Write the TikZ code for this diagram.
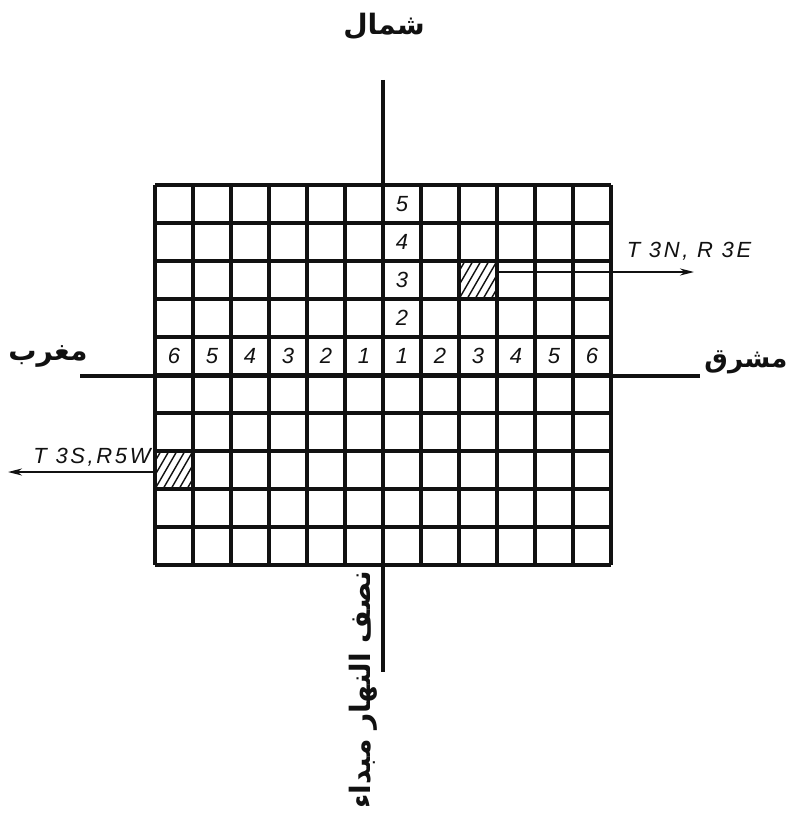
\documentclass[tikz,border=0pt]{standalone}
\usepackage{fontspec}
\setmainfont{Liberation Sans}
\newfontfamily\arabicfont[Script=Arabic]{DejaVu Sans}
\newfontfamily\tagfont[LetterSpace=12]{Liberation Sans}
\TeXXeTstate=1
\usepackage{xcolor}
\definecolor{colInk}{HTML}{111111}
\usepackage{tikz}
\usetikzlibrary{arrows.meta}

\tikzset{
  gridline/.style={colInk, line width=1.9pt},
  axisline/.style={colInk, line width=2pt},
  hatchline/.style={colInk, line width=0.8pt},
  pointer/.style={colInk, line width=1pt, -{Stealth[length=8pt,width=4pt]}},
  cellnum/.style={font=\itshape\fontsize{12.5}{12.5}\selectfont, text=colInk},
  tag/.style={font=\tagfont\itshape\fontsize{12.5}{12.5}\selectfont, text=colInk},
  arlabel/.style={font=\arabicfont\bfseries\fontsize{16}{16}\selectfont, text=colInk},
}

\begin{document}
\begin{tikzpicture}[x=0.02cm, y=-0.02cm]
        % Frame: 787 x 814 px, 1px -> 0.02cm
        \useasboundingbox (0,0) rectangle (787,814);
        % Grid: 12 columns x 10 rows, cell 38px
        \foreach \i in {0,...,12}
            \draw[gridline] ({155+38*\i},185) -- ({155+38*\i},565);
        \foreach \j in {0,...,10}
            \draw[gridline] (155,{185+38*\j}) -- (611,{185+38*\j});
        % Hatched sections
        \begin{scope}
            \clip (459,261) rectangle (497,299);
            \foreach \k in {0,...,7}
                \draw[hatchline] ({443+8*\k},299) -- ({465+8*\k},261);
        \end{scope}
        \begin{scope}
            \clip (155,451) rectangle (193,489);
            \foreach \k in {0,...,7}
                \draw[hatchline] ({139+8*\k},489) -- ({161+8*\k},451);
        \end{scope}
        % Axes
        \draw[axisline] (383,80) -- (383,672);
        \draw[axisline] (80,376) -- (700,376);
        % Range numbers
        \foreach \n in {1,...,6} {
            \node[cellnum] at ({383-38*\n+19},356) {\n};
            \node[cellnum] at ({383+38*\n-19},356) {\n};
        }
        % Tier numbers
        \foreach \n in {2,...,5}
            \node[cellnum] at (402,{375-38*\n+19}) {\n};
        % Locations
        \coordinate (ne-cell) at (497,272);
        \coordinate (ne-tip) at (694,272);
        \coordinate (sw-cell) at (155,472);
        \coordinate (sw-tip) at (8,472);
        \draw[pointer] (ne-cell) -- (ne-tip);
        \draw[pointer] (sw-cell) -- (sw-tip);
        \node[tag] (ne-tag) at (689,251) {T 3N, R 3E};
        \node[tag] (sw-tag) at (92,457) {T 3S,R5W};
        % Directions
        \node[arlabel] (north) at (384,26) {\beginR شمال\endR};
        \node[arlabel] (west) at (48,356) {\beginR مغرب\endR};
        \node[arlabel, font=\arabicfont\bfseries\fontsize{15}{15}\selectfont] (east) at (746,362) {\beginR مشرق\endR};
        \node[arlabel, rotate=90] (meridian) at (363,690) {\beginR نصف النهار مبداء\endR};
\end{tikzpicture}
\end{document}
